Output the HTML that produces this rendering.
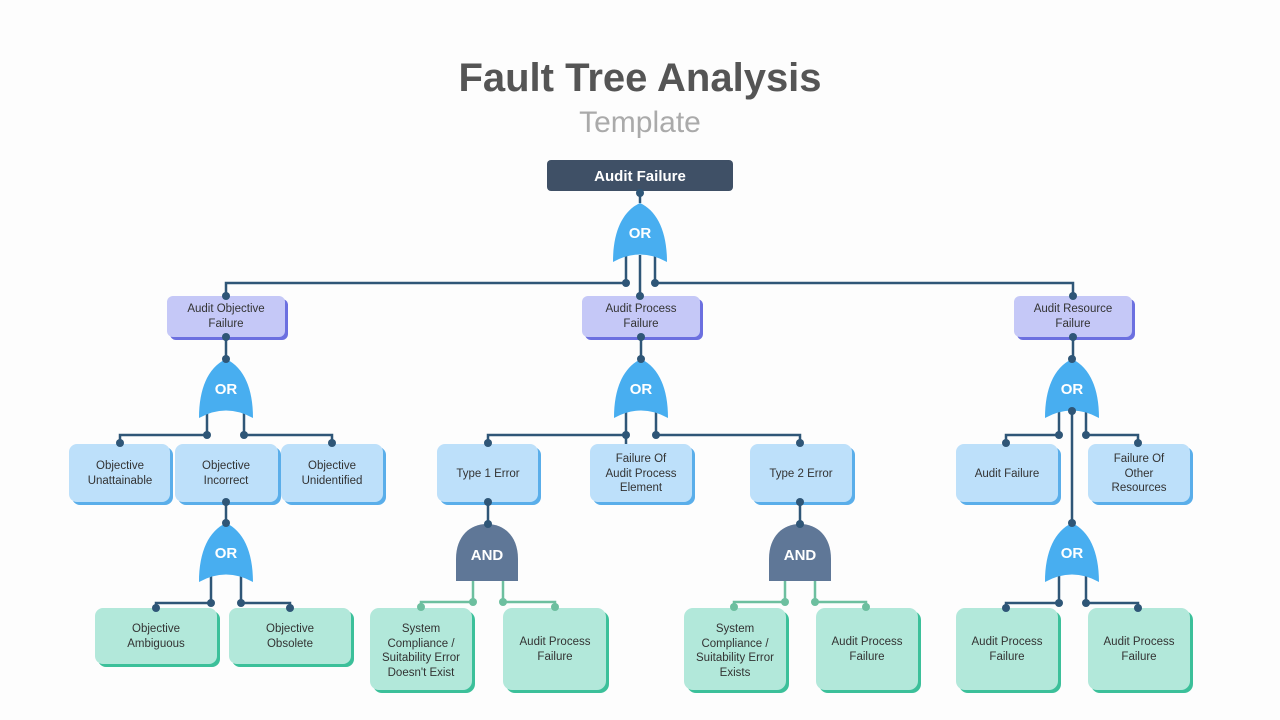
<!DOCTYPE html>
<html><head><meta charset="utf-8"><style>
html,body{margin:0;padding:0;background:#fdfdfd;}
svg{display:block;}
text{font-family:"Liberation Sans",sans-serif;}
.t{font-size:11.5px;fill:#333;text-anchor:middle;}
.g{font-size:15px;font-weight:bold;fill:#fff;text-anchor:middle;}
.l{stroke:#2f5677;stroke-width:2.5;fill:none;}
.lg{stroke:#6dbf9f;stroke-width:2.5;fill:none;}
.d{fill:#2f5677;}
.dg{fill:#6dbf9f;}
</style></head><body>
<svg width="1280" height="720" viewBox="0 0 1280 720" xmlns="http://www.w3.org/2000/svg">
<defs>
<path id="or" d="M-27,59 Q0,44 27,59 C27,28 17,8 0,0 C-17,8 -27,28 -27,59Z" fill="#48aef0"/>
<path id="and" d="M-31,57 L-31,35 C-31,12 -17,0 0,0 C17,0 31,12 31,35 L31,57Z" fill="#5f7797"/>
</defs>
<rect width="1280" height="720" fill="#fdfdfd"/>
<text x="640" y="91" text-anchor="middle" font-size="40" font-weight="bold" fill="#555">Fault Tree Analysis</text>
<text x="640" y="132" text-anchor="middle" font-size="30" fill="#aaa">Template</text>

<!-- connectors -->
<g class="l">
<path d="M640,191V203"/>
<path d="M626,255V283H226V296M655,255V283H1073V296M640,255V296"/>
<path d="M226,337V359M641,337V359M1073,337V359"/>
<path d="M207,410V435H120V443M244,410V435H332V443"/>
<path d="M226,502V523M211,574V603H156V608M241,574V603H290V608"/>
<path d="M626,410V445M656,410V435H800V443M626,435H488V443"/>
<path d="M488,502V524M800,502V524"/>
<path d="M1059,410V435H1006V443M1086,410V435H1138V443M1072,411V523"/>
<path d="M1059,574V603H1006V608M1086,574V603H1138V608"/>
</g>
<g class="lg">
<path d="M473,580V602H421V607M503,580V602H555V607"/>
<path d="M785,580V602H734V607M815,580V602H866V607"/>
</g>

<!-- top box -->
<rect x="547" y="160" width="186" height="31" rx="4" fill="#3f5066"/>
<text x="640" y="181" text-anchor="middle" font-size="15" font-weight="bold" fill="#fff">Audit Failure</text>

<!-- gates -->
<use href="#or" x="640" y="203"/><text class="g" x="640" y="238">OR</text>
<use href="#or" x="226" y="359"/><text class="g" x="226" y="394">OR</text>
<use href="#or" x="641" y="359"/><text class="g" x="641" y="394">OR</text>
<use href="#or" x="1072" y="359"/><text class="g" x="1072" y="394">OR</text>
<use href="#or" x="226" y="523"/><text class="g" x="226" y="558">OR</text>
<use href="#or" x="1072" y="523"/><text class="g" x="1072" y="558">OR</text>
<use href="#and" x="487" y="524"/><text class="g" x="487" y="560">AND</text>
<use href="#and" x="800" y="524"/><text class="g" x="800" y="560">AND</text>

<!-- level 1 purple -->
<g>
<rect x="170" y="299" width="118" height="41" rx="6" fill="#6c70e0"/><rect x="167" y="296" width="118" height="41" rx="6" fill="#c5c8f7"/>
<text class="t" x="226" y="312">Audit Objective</text><text class="t" x="226" y="327">Failure</text>
<rect x="585" y="299" width="118" height="41" rx="6" fill="#6c70e0"/><rect x="582" y="296" width="118" height="41" rx="6" fill="#c5c8f7"/>
<text class="t" x="641" y="312">Audit Process</text><text class="t" x="641" y="327">Failure</text>
<rect x="1017" y="299" width="118" height="41" rx="6" fill="#6c70e0"/><rect x="1014" y="296" width="118" height="41" rx="6" fill="#c5c8f7"/>
<text class="t" x="1073" y="312">Audit Resource</text><text class="t" x="1073" y="327">Failure</text>
</g>

<!-- level 2 blue -->
<g>
<rect x="72" y="447" width="101" height="58" rx="8" fill="#5aaeea"/><rect x="69" y="444" width="101" height="58" rx="8" fill="#bde0fa"/>
<text class="t" x="120" y="469">Objective</text><text class="t" x="120" y="484">Unattainable</text>
<rect x="178" y="447" width="103" height="58" rx="8" fill="#5aaeea"/><rect x="175" y="444" width="103" height="58" rx="8" fill="#bde0fa"/>
<text class="t" x="226" y="469">Objective</text><text class="t" x="226" y="484">Incorrect</text>
<rect x="284" y="447" width="102" height="58" rx="8" fill="#5aaeea"/><rect x="281" y="444" width="102" height="58" rx="8" fill="#bde0fa"/>
<text class="t" x="332" y="469">Objective</text><text class="t" x="332" y="484">Unidentified</text>

<rect x="440" y="447" width="101" height="58" rx="8" fill="#5aaeea"/><rect x="437" y="444" width="101" height="58" rx="8" fill="#bde0fa"/>
<text class="t" x="488" y="477">Type 1 Error</text>
<rect x="593" y="447" width="102" height="58" rx="8" fill="#5aaeea"/><rect x="590" y="444" width="102" height="58" rx="8" fill="#bde0fa"/>
<text class="t" x="641" y="462">Failure Of</text><text class="t" x="641" y="477">Audit Process</text><text class="t" x="641" y="491">Element</text>
<rect x="753" y="447" width="102" height="58" rx="8" fill="#5aaeea"/><rect x="750" y="444" width="102" height="58" rx="8" fill="#bde0fa"/>
<text class="t" x="801" y="477">Type 2 Error</text>

<rect x="959" y="447" width="102" height="58" rx="8" fill="#5aaeea"/><rect x="956" y="444" width="102" height="58" rx="8" fill="#bde0fa"/>
<text class="t" x="1007" y="477">Audit Failure</text>
<rect x="1091" y="447" width="102" height="58" rx="8" fill="#5aaeea"/><rect x="1088" y="444" width="102" height="58" rx="8" fill="#bde0fa"/>
<text class="t" x="1139" y="462">Failure Of</text><text class="t" x="1139" y="477">Other</text><text class="t" x="1139" y="491">Resources</text>
</g>

<!-- level 3 green -->
<g>
<rect x="98" y="611" width="122" height="56" rx="8" fill="#3cc09a"/><rect x="95" y="608" width="122" height="56" rx="8" fill="#b2e8da"/>
<text class="t" x="156" y="632">Objective</text><text class="t" x="156" y="647">Ambiguous</text>
<rect x="232" y="611" width="122" height="56" rx="8" fill="#3cc09a"/><rect x="229" y="608" width="122" height="56" rx="8" fill="#b2e8da"/>
<text class="t" x="290" y="632">Objective</text><text class="t" x="290" y="647">Obsolete</text>

<rect x="373" y="611" width="102" height="82" rx="9" fill="#3cc09a"/><rect x="370" y="608" width="102" height="82" rx="9" fill="#b2e8da"/>
<text class="t" x="421" y="632">System</text><text class="t" x="421" y="647">Compliance /</text><text class="t" x="421" y="661">Suitability Error</text><text class="t" x="421" y="676">Doesn't Exist</text>
<rect x="506" y="611" width="103" height="82" rx="9" fill="#3cc09a"/><rect x="503" y="608" width="103" height="82" rx="9" fill="#b2e8da"/>
<text class="t" x="555" y="645">Audit Process</text><text class="t" x="555" y="660">Failure</text>

<rect x="687" y="611" width="102" height="82" rx="9" fill="#3cc09a"/><rect x="684" y="608" width="102" height="82" rx="9" fill="#b2e8da"/>
<text class="t" x="735" y="632">System</text><text class="t" x="735" y="647">Compliance /</text><text class="t" x="735" y="661">Suitability Error</text><text class="t" x="735" y="676">Exists</text>
<rect x="819" y="611" width="102" height="82" rx="9" fill="#3cc09a"/><rect x="816" y="608" width="102" height="82" rx="9" fill="#b2e8da"/>
<text class="t" x="867" y="645">Audit Process</text><text class="t" x="867" y="660">Failure</text>

<rect x="959" y="611" width="102" height="82" rx="9" fill="#3cc09a"/><rect x="956" y="608" width="102" height="82" rx="9" fill="#b2e8da"/>
<text class="t" x="1007" y="645">Audit Process</text><text class="t" x="1007" y="660">Failure</text>
<rect x="1091" y="611" width="102" height="82" rx="9" fill="#3cc09a"/><rect x="1088" y="608" width="102" height="82" rx="9" fill="#b2e8da"/>
<text class="t" x="1139" y="645">Audit Process</text><text class="t" x="1139" y="660">Failure</text>
</g>

<!-- dots -->
<g class="d">
<circle cx="640" cy="193" r="4"/><circle cx="626" cy="283" r="4"/><circle cx="655" cy="283" r="4"/><circle cx="640" cy="296" r="4"/>
<circle cx="226" cy="296" r="4"/><circle cx="1073" cy="296" r="4"/>
<circle cx="226" cy="337" r="4"/><circle cx="641" cy="337" r="4"/><circle cx="1073" cy="337" r="4"/>
<circle cx="226" cy="359" r="4"/><circle cx="641" cy="359" r="4"/><circle cx="1072" cy="359" r="4"/>
<circle cx="207" cy="435" r="4"/><circle cx="244" cy="435" r="4"/><circle cx="120" cy="443" r="4"/><circle cx="332" cy="443" r="4"/>
<circle cx="626" cy="435" r="4"/><circle cx="656" cy="435" r="4"/><circle cx="488" cy="443" r="4"/><circle cx="800" cy="443" r="4"/>
<circle cx="1059" cy="435" r="4"/><circle cx="1086" cy="435" r="4"/><circle cx="1006" cy="443" r="4"/><circle cx="1138" cy="443" r="4"/><circle cx="1072" cy="411" r="4"/>
<circle cx="226" cy="502" r="4"/><circle cx="226" cy="523" r="4"/><circle cx="488" cy="502" r="4"/><circle cx="488" cy="524" r="4"/>
<circle cx="800" cy="502" r="4"/><circle cx="800" cy="524" r="4"/><circle cx="1072" cy="523" r="4"/>
<circle cx="211" cy="603" r="4"/><circle cx="241" cy="603" r="4"/><circle cx="156" cy="608" r="4"/><circle cx="290" cy="608" r="4"/>
<circle cx="1059" cy="603" r="4"/><circle cx="1086" cy="603" r="4"/><circle cx="1006" cy="608" r="4"/><circle cx="1138" cy="608" r="4"/>
</g>
<g class="dg">
<circle cx="473" cy="602" r="4"/><circle cx="503" cy="602" r="4"/><circle cx="421" cy="607" r="4"/><circle cx="555" cy="607" r="4"/>
<circle cx="785" cy="602" r="4"/><circle cx="815" cy="602" r="4"/><circle cx="734" cy="607" r="4"/><circle cx="866" cy="607" r="4"/>
</g>
</svg>
</body></html>
